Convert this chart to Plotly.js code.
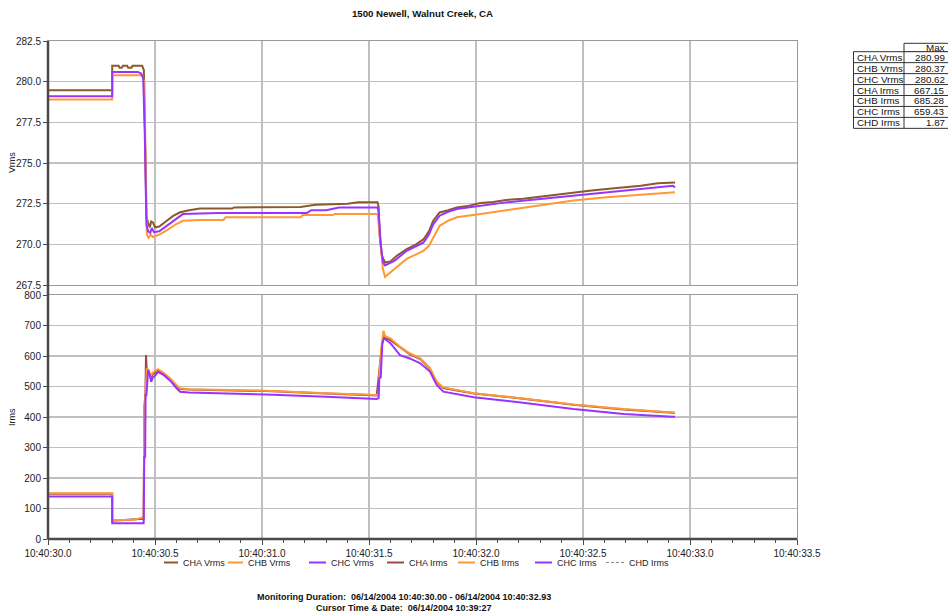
<!DOCTYPE html>
<html>
<head>
<meta charset="utf-8">
<script src="https://cdn.plot.ly/plotly-3.0.1.min.js"></script>
<style>
  html, body { margin: 0; padding: 0; background: #ffffff; }
  #chart { width: 948px; height: 613px; }
</style>
</head>
<body>
<div id="chart"></div>
<script>
// ---------- DATA (seconds after 10:40:00) ----------
const chaVrmsT = [30.0, 30.30, 30.30, 30.33, 30.335, 30.345, 30.35, 30.37, 30.375, 30.39, 30.395, 30.44, 30.448, 30.452, 30.455, 30.46, 30.47, 30.476, 30.482, 30.49, 30.50, 30.52, 30.555, 30.585, 30.617, 30.66, 30.71, 30.86, 30.87, 31.0, 31.05, 31.18, 31.25, 31.33, 31.40, 31.45, 31.54, 31.545, 31.55, 31.56, 31.575, 31.60, 31.63, 31.676, 31.72, 31.754, 31.78, 31.80, 31.83, 31.87, 31.91, 31.96, 32.02, 32.08, 32.14, 32.22, 32.30, 32.38, 32.455, 32.53, 32.61, 32.69, 32.77, 32.85, 32.92, 32.93];
const chaVrmsV = [279.47, 279.47, 280.98, 280.98, 280.85, 280.85, 280.98, 280.98, 280.85, 280.85, 280.98, 280.98, 280.7, 276.6, 275.4, 271.7, 271.2, 271.05, 271.4, 271.35, 271.05, 271.1, 271.45, 271.75, 271.97, 272.1, 272.2, 272.2, 272.27, 272.3, 272.27, 272.3, 272.44, 272.45, 272.5, 272.58, 272.58, 272.3, 270.5, 269.3, 268.88, 268.95, 269.3, 269.7, 270.0, 270.3, 270.8, 271.45, 271.96, 272.1, 272.27, 272.35, 272.54, 272.6, 272.73, 272.8, 272.93, 273.05, 273.2, 273.3, 273.4, 273.5, 273.6, 273.75, 273.8, 273.8];

const chbVrmsT = [30.0, 30.30, 30.30, 30.44, 30.45, 30.455, 30.462, 30.47, 30.48, 30.49, 30.52, 30.56, 30.60, 30.63, 30.71, 30.82, 30.83, 31.18, 31.19, 31.33, 31.34, 31.54, 31.545, 31.555, 31.565, 31.575, 31.62, 31.676, 31.754, 31.78, 31.80, 31.83, 31.87, 31.91, 32.02, 32.14, 32.30, 32.455, 32.61, 32.77, 32.92, 32.93];
const chbVrmsV = [278.9, 278.9, 280.4, 280.4, 280.0, 276.0, 270.6, 270.4, 270.6, 270.45, 270.6, 270.9, 271.25, 271.45, 271.5, 271.5, 271.66, 271.66, 271.8, 271.8, 271.86, 271.86, 271.3, 270.0, 268.5, 268.0, 268.5, 269.1, 269.6, 269.9, 270.4, 271.14, 271.45, 271.66, 271.86, 272.1, 272.38, 272.7, 272.9, 273.06, 273.2, 273.2];

const chcVrmsT = [30.0, 30.30, 30.30, 30.42, 30.435, 30.445, 30.452, 30.46, 30.468, 30.478, 30.485, 30.495, 30.52, 30.56, 30.60, 30.63, 30.71, 30.80, 31.21, 31.23, 31.30, 31.36, 31.54, 31.545, 31.555, 31.565, 31.575, 31.62, 31.676, 31.754, 31.78, 31.80, 31.83, 31.87, 31.91, 32.02, 32.14, 32.30, 32.455, 32.61, 32.77, 32.92, 32.93];
const chcVrmsV = [279.1, 279.1, 280.6, 280.6, 280.5, 280.2, 277.0, 271.2, 270.8, 270.7, 271.0, 270.75, 270.8, 271.2, 271.6, 271.86, 271.9, 271.93, 271.93, 272.1, 272.1, 272.27, 272.27, 272.0, 270.0, 268.9, 268.7, 269.0, 269.6, 270.1, 270.6, 271.23, 271.76, 272.0, 272.17, 272.38, 272.58, 272.79, 273.0, 273.2, 273.4, 273.6, 273.5];

const chaIrmsT = [30.0, 30.30, 30.30, 30.44, 30.447, 30.45, 30.455, 30.458, 30.462, 30.47, 30.48, 30.49, 30.50, 30.514, 30.54, 30.57, 30.60, 30.617, 30.66, 31.02, 31.30, 31.536, 31.545, 31.55, 31.56, 31.568, 31.575, 31.60, 31.645, 31.69, 31.74, 31.785, 31.816, 31.847, 31.99, 32.22, 32.455, 32.69, 32.92, 32.93];
const chaIrmsV = [148, 148, 60, 66, 66, 430, 470, 603, 545, 548, 530, 540, 545, 552, 542, 523, 502, 492, 490, 485, 477, 471, 530, 570, 630, 672, 660, 652, 628, 606, 590, 558, 514, 495, 477, 460, 440, 425, 414, 413];

const chbIrmsT = [30.0, 30.30, 30.30, 30.40, 30.44, 30.447, 30.45, 30.456, 30.462, 30.47, 30.48, 30.49, 30.50, 30.514, 30.54, 30.57, 30.60, 30.617, 30.66, 31.02, 31.30, 31.536, 31.545, 31.55, 31.56, 31.568, 31.575, 31.60, 31.645, 31.69, 31.74, 31.785, 31.816, 31.847, 31.99, 32.22, 32.455, 32.69, 32.92, 32.93];
const chbIrmsV = [150, 150, 62, 63, 70, 70, 420, 480, 560, 555, 535, 545, 550, 557, 545, 527, 505, 494, 491, 486, 478, 472, 478, 560, 640, 683, 665, 658, 630, 609, 592, 560, 516, 497, 478, 461, 441, 426, 415, 414];

const chcIrmsT = [30.0, 30.30, 30.30, 30.447, 30.45, 30.454, 30.456, 30.46, 30.468, 30.475, 30.482, 30.49, 30.50, 30.514, 30.54, 30.57, 30.60, 30.617, 30.66, 31.02, 31.30, 31.536, 31.545, 31.548, 31.555, 31.562, 31.57, 31.60, 31.645, 31.69, 31.74, 31.785, 31.816, 31.847, 31.99, 32.22, 32.455, 32.69, 32.92, 32.93];
const chcIrmsV = [139, 139, 51.5, 51.5, 270, 270, 472, 472, 554, 540, 515, 530, 535, 548, 538, 520, 495, 483, 480, 474, 466, 459, 462, 527, 530, 640, 658, 642, 603, 592, 576, 549, 505, 483, 465, 447, 426, 410, 401, 401];

const chdIrmsT = [30.0, 30.45, 31.0, 31.55, 32.93];
const chdIrmsV = [1.5, 1.87, 1.4, 1.6, 1.3];

const xTickVals = [30.0, 30.5, 31.0, 31.5, 32.0, 32.5, 33.0, 33.5];
const xTickText = ["10:40:30.0", "10:40:30.5", "10:40:31.0", "10:40:31.5", "10:40:32.0", "10:40:32.5", "10:40:33.0", "10:40:33.5"];
const vTickVals = [267.5, 270.0, 272.5, 275.0, 277.5, 280.0, 282.5];
const vTickText = ["267.5", "270.0", "272.5", "275.0", "277.5", "280.0", "282.5"];
const iTickVals = [0, 100, 200, 300, 400, 500, 600, 700, 800];

const tableLabels = ["CHA Vrms", "CHB Vrms", "CHC Vrms", "CHA Irms", "CHB Irms", "CHC Irms", "CHD Irms"];
const tableMax = ["280.99", "280.37", "280.62", "667.15", "685.28", "659.43", "1.87"];

// ---------- STYLE / LAYOUT ----------
const FONT = "Liberation Sans, Arial, Helvetica, sans-serif";
const colors = {
  chaV: "#8B5A2B", chbV: "#FF9933", chcV: "#9933FF",
  chaI: "#9A4A45", chbI: "#FF9933", chcI: "#9933FF", chdI: "#8a8a8a"
};
// pixel -> paper helpers (margins l=48, r=0, t=41, b=74)
const W = 900, H = 498;
const fx = px => (px - 48) / W;
const fy = py => (539 - py) / H;

const traces = [
  {name: "CHA Vrms", x: chaVrmsT, y: chaVrmsV, xaxis: "x2", yaxis: "y2", color: colors.chaV, width: 2},
  {name: "CHB Vrms", x: chbVrmsT, y: chbVrmsV, xaxis: "x2", yaxis: "y2", color: colors.chbV, width: 2},
  {name: "CHC Vrms", x: chcVrmsT, y: chcVrmsV, xaxis: "x2", yaxis: "y2", color: colors.chcV, width: 2},
  {name: "CHA Irms", x: chaIrmsT, y: chaIrmsV, xaxis: "x", yaxis: "y", color: colors.chaI, width: 2},
  {name: "CHB Irms", x: chbIrmsT, y: chbIrmsV, xaxis: "x", yaxis: "y", color: colors.chbI, width: 2},
  {name: "CHC Irms", x: chcIrmsT, y: chcIrmsV, xaxis: "x", yaxis: "y", color: colors.chcI, width: 2},
  {name: "CHD Irms", x: chdIrmsT, y: chdIrmsV, xaxis: "x", yaxis: "y", color: colors.chdI, width: 1.2, dash: "3px,2px"}
].map(t => ({
  type: "scatter", mode: "lines", name: t.name, x: t.x, y: t.y,
  xaxis: t.xaxis, yaxis: t.yaxis, showlegend: false, hoverinfo: "skip",
  line: {color: t.color, width: t.width, dash: t.dash || "solid"}
}));

const gridColor = "#c0c0c0";
const frameColor = "#9a9a9a";
const axisDark = "#4a4a4a";

const shapes = [];
const annotations = [];

// thick left axis line spanning both panels, thick bottom axis line
shapes.push({type: "line", xref: "paper", yref: "paper", x0: 0, x1: 0, y0: 0, y1: 1, line: {color: axisDark, width: 2.5}});
shapes.push({type: "line", xref: "paper", yref: "paper", x0: 0, x1: fx(797), y0: 0, y1: 0, line: {color: axisDark, width: 2.5}});

// manual legend (reference uses short line samples)
const legendLines = [[164, 178], [228, 243], [309, 326], [387, 404], [458, 475], [535, 552], [606, 624]];
traces.forEach((t, i) => {
  const [a, b] = legendLines[i];
  const dashed = t.line.dash !== "solid";
  shapes.push({type: "line", xref: "paper", yref: "paper", x0: fx(a), x1: fx(b), y0: fy(562.5), y1: fy(562.5),
    line: {color: t.line.color, width: dashed ? 1.2 : 2, dash: dashed ? "3px,2px" : "solid"}});
  annotations.push({xref: "paper", yref: "paper", x: fx(b + 3), y: fy(562.5), xanchor: "left", yanchor: "middle",
    showarrow: false, text: t.name, font: {family: FONT, size: 9, color: "#222"}});
});

// axis titles
annotations.push({xref: "paper", yref: "paper", x: fx(12), y: fy(163), textangle: -90, showarrow: false,
  xanchor: "center", yanchor: "middle", text: "Vrms", font: {family: FONT, size: 9, color: "#222"}});
annotations.push({xref: "paper", yref: "paper", x: fx(12), y: fy(417), textangle: -90, showarrow: false,
  xanchor: "center", yanchor: "middle", text: "Irms", font: {family: FONT, size: 9, color: "#222"}});

// footer text
annotations.push({xref: "paper", yref: "paper", x: fx(403.5), y: fy(596.5), showarrow: false, xanchor: "center", yanchor: "middle",
  text: "<b>Monitoring Duration:  06/14/2004 10:40:30.00 - 06/14/2004 10:40:32.93</b>", font: {family: FONT, size: 9, color: "#111"}});
annotations.push({xref: "paper", yref: "paper", x: fx(403.5), y: fy(607.5), showarrow: false, xanchor: "center", yanchor: "middle",
  text: "<b>Cursor Time & Date:  06/14/2004 10:39:27</b>", font: {family: FONT, size: 9, color: "#111"}});

// Max table
const tblL = 853.5, tblM = 904, tblR = 949, hdrTop = 43.3, row0 = 51.7, rowH = 10.95;
const tblColor = "#333";
const tblFont = {family: FONT, size: 9.8, color: "#111"};
shapes.push({type: "rect", xref: "paper", yref: "paper", x0: fx(tblM), x1: fx(tblR), y0: fy(row0), y1: fy(hdrTop), line: {color: tblColor, width: 1}, fillcolor: "#ffffff"});
shapes.push({type: "rect", xref: "paper", yref: "paper", x0: fx(tblL), x1: fx(tblR), y0: fy(row0 + rowH * tableLabels.length), y1: fy(row0), line: {color: tblColor, width: 1}, fillcolor: "#ffffff"});
shapes.push({type: "line", xref: "paper", yref: "paper", x0: fx(tblM), x1: fx(tblM), y0: fy(row0 + rowH * tableLabels.length), y1: fy(row0), line: {color: tblColor, width: 1}});
for (let k = 1; k < tableLabels.length; k++) {
  shapes.push({type: "line", xref: "paper", yref: "paper", x0: fx(tblL), x1: fx(tblR), y0: fy(row0 + rowH * k), y1: fy(row0 + rowH * k), line: {color: tblColor, width: 1}});
}
annotations.push({xref: "paper", yref: "paper", x: fx(946.5), y: fy((hdrTop + row0) / 2), xanchor: "right", yanchor: "middle", showarrow: false,
  text: "Max", font: tblFont});
tableLabels.forEach((lab, k) => {
  const yc = fy(row0 + rowH * (k + 0.5));
  annotations.push({xref: "paper", yref: "paper", x: fx(855), y: yc, xanchor: "left", yanchor: "middle", showarrow: false,
    text: lab, font: tblFont});
  annotations.push({xref: "paper", yref: "paper", x: fx(946.5), y: yc, xanchor: "right", yanchor: "middle", showarrow: false,
    text: tableMax[k], font: tblFont});
});

const tickFont = {family: FONT, size: 10, color: "#222"};
const xDomain = [0, fx(797)];

const layout = {
  width: 948, height: 613,
  margin: {l: 48, r: 0, t: 41, b: 74, pad: 0},
  paper_bgcolor: "#ffffff", plot_bgcolor: "#ffffff",
  showlegend: false,
  title: {text: "<b>1500 Newell, Walnut Creek, CA</b>", font: {family: FONT, size: 9.7, color: "#111"},
    xref: "paper", x: fx(422.5), xanchor: "center", yref: "container", y: 1 - 13.5 / 613, yanchor: "middle"},
  xaxis: {
    domain: xDomain, anchor: "y", range: [30, 33.5], tickmode: "array", tickvals: xTickVals, ticktext: xTickText,
    tickfont: tickFont, ticks: "outside", ticklen: 5, tickwidth: 1, tickcolor: axisDark,
    minor: {tickmode: "linear", tick0: 30, dtick: 0.1, ticks: "outside", ticklen: 3, tickcolor: axisDark, showgrid: false},
    showgrid: true, gridcolor: gridColor, gridwidth: 1.2,
    showline: true, linecolor: frameColor, linewidth: 1, mirror: true, zeroline: false
  },
  yaxis: {
    domain: [0, fy(295)], anchor: "x", range: [0, 800], tickmode: "array", tickvals: iTickVals,
    tickfont: tickFont, ticks: "outside", ticklen: 4, tickwidth: 1, tickcolor: axisDark,
    showgrid: true, gridcolor: gridColor, gridwidth: 1.2,
    showline: true, linecolor: frameColor, linewidth: 1, mirror: true, zeroline: false
  },
  xaxis2: {
    domain: xDomain, anchor: "y2", matches: "x", range: [30, 33.5], tickmode: "array", tickvals: xTickVals,
    showticklabels: false, ticks: "",
    showgrid: true, gridcolor: gridColor, gridwidth: 1.2,
    showline: true, linecolor: frameColor, linewidth: 1, mirror: true, zeroline: false
  },
  yaxis2: {
    domain: [fy(285), 1], anchor: "x2", range: [267.5, 282.5], tickmode: "array", tickvals: vTickVals, ticktext: vTickText,
    tickfont: tickFont, ticks: "outside", ticklen: 4, tickwidth: 1, tickcolor: axisDark,
    showgrid: true, gridcolor: gridColor, gridwidth: 1.2,
    showline: true, linecolor: frameColor, linewidth: 1, mirror: true, zeroline: false
  },
  shapes: shapes,
  annotations: annotations
};

Plotly.newPlot("chart", traces, layout, {displayModeBar: false, staticPlot: true});
</script>
</body>
</html>
